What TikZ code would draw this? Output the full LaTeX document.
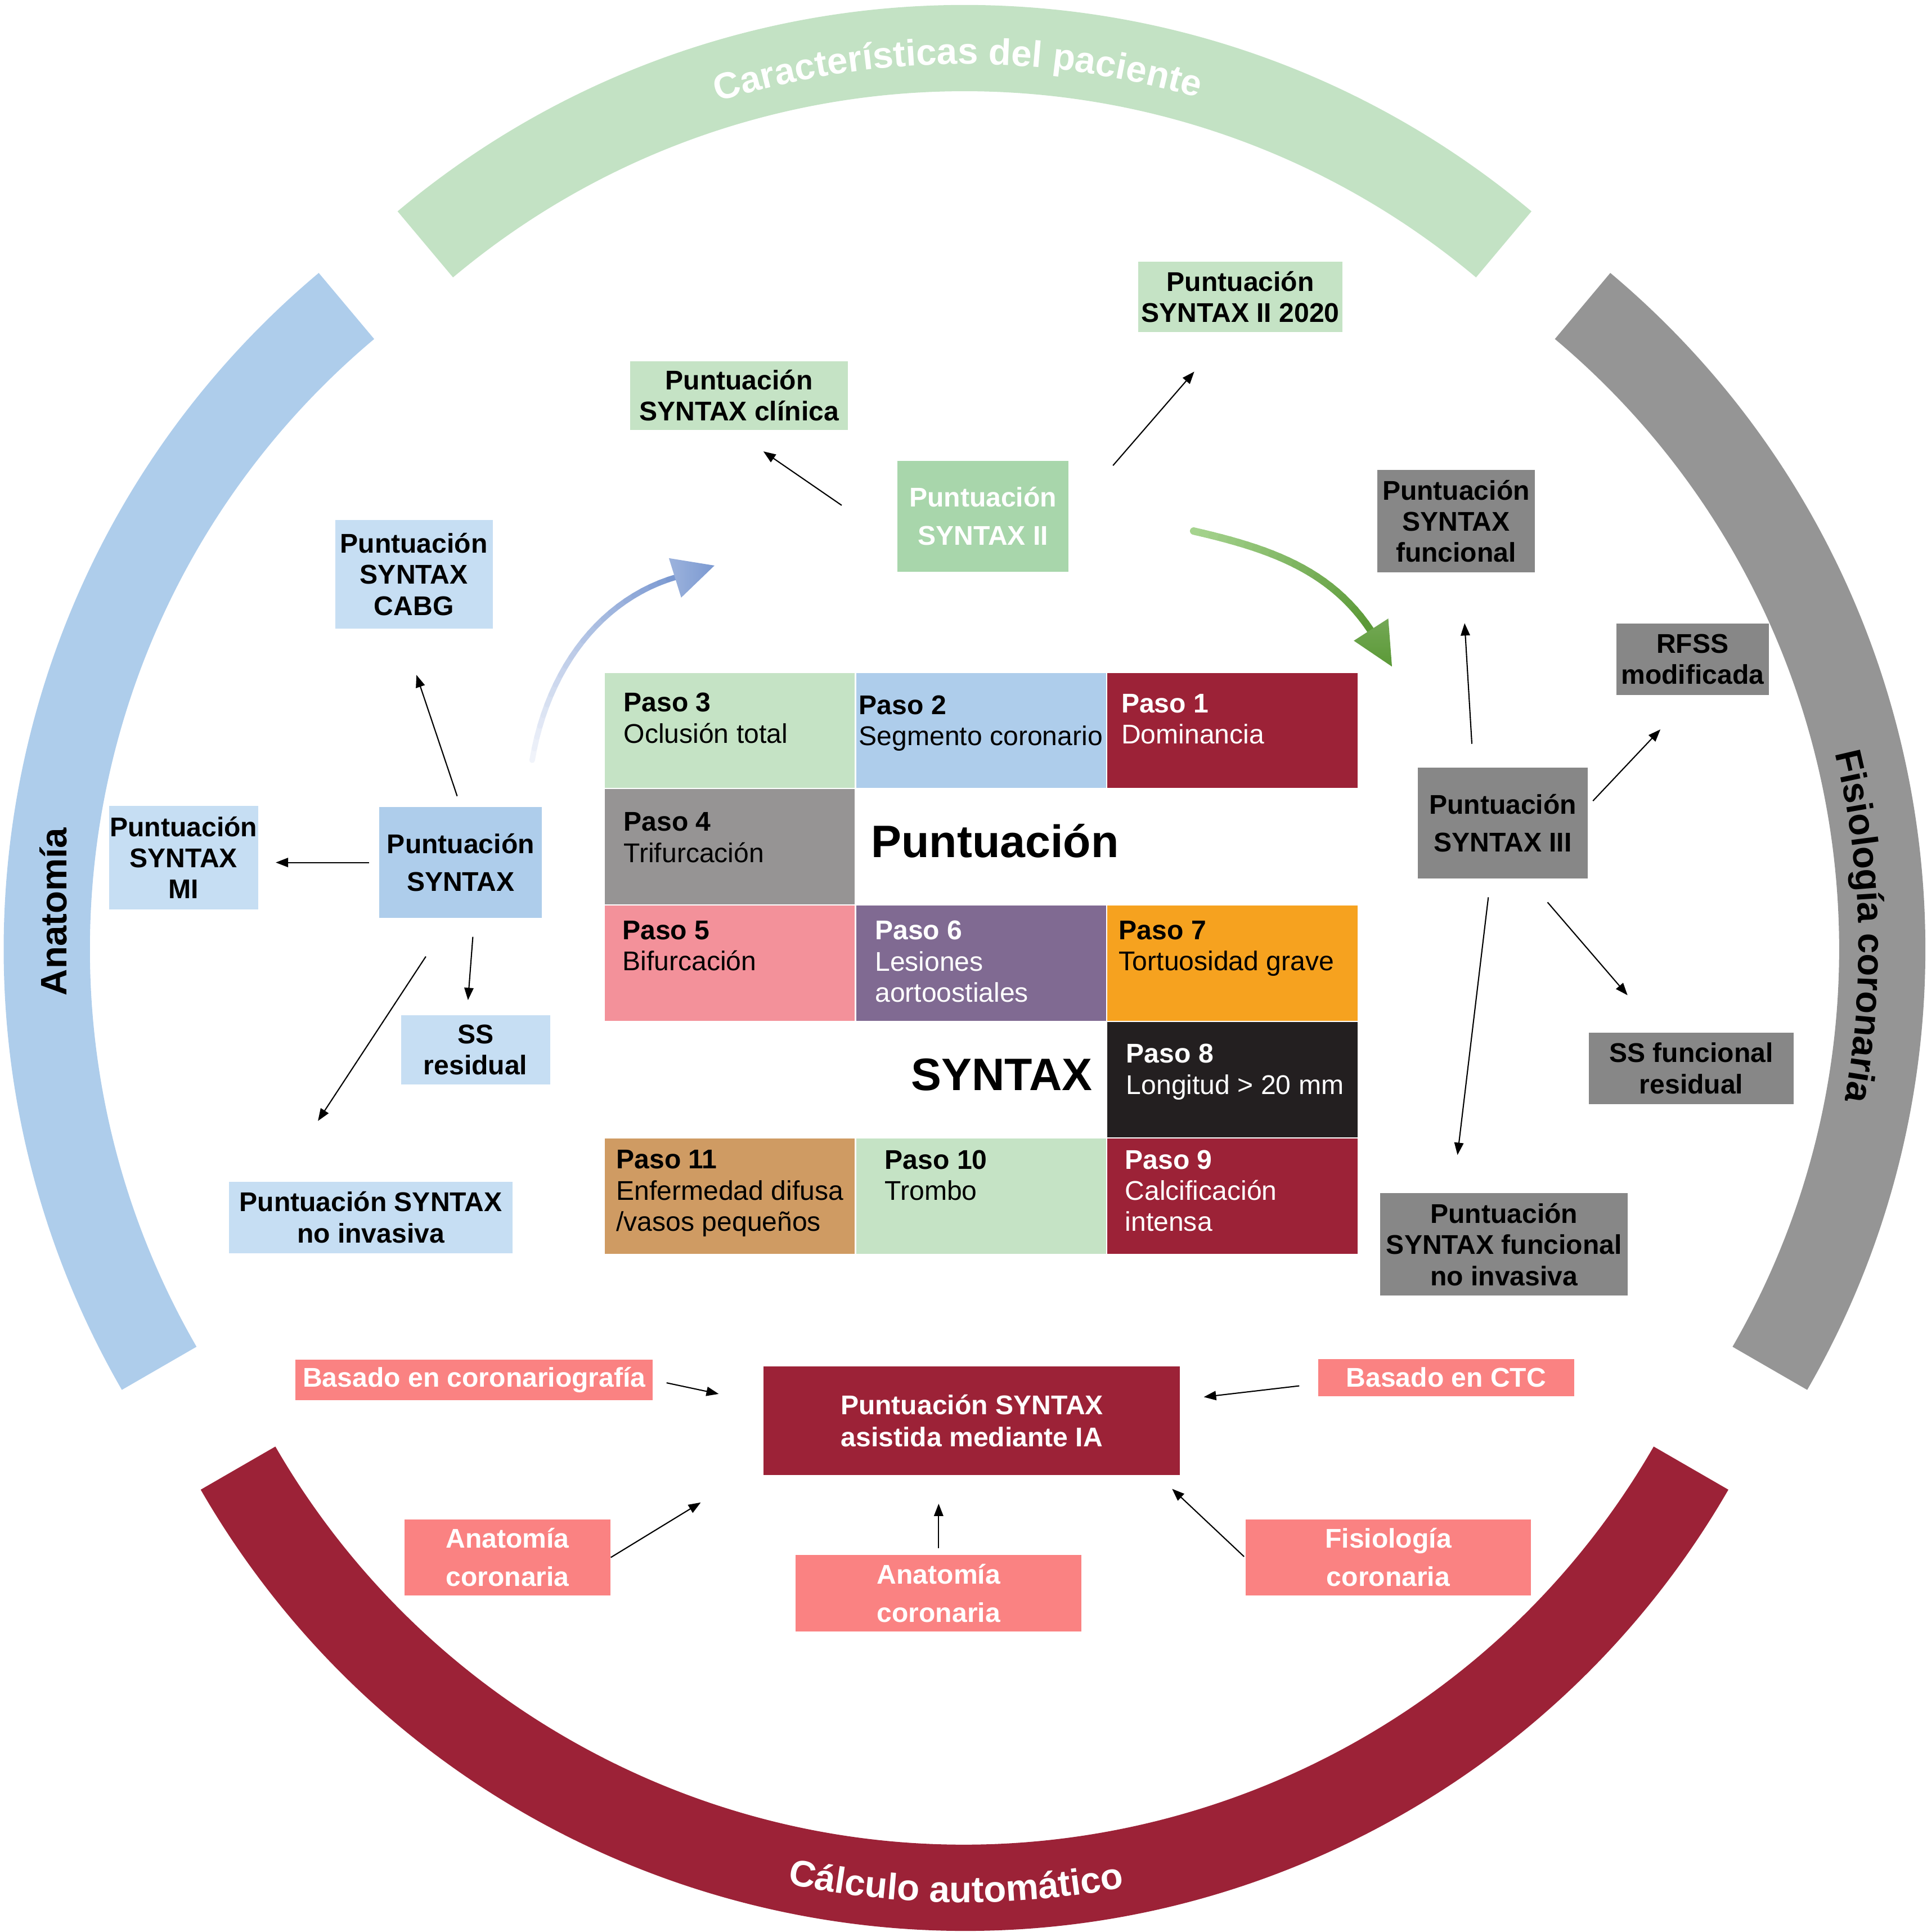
\documentclass[tikz,border=0pt]{standalone}
\usepackage{fontspec}
\setmainfont{Liberation Sans}
\usetikzlibrary{arrows.meta,positioning,calc,decorations.text}
\definecolor{ringgreen}{HTML}{C3E2C4}
\definecolor{ringblue}{HTML}{AECDEB}
\definecolor{ringgray}{HTML}{959595}
\definecolor{ringred}{HTML}{9C2237}
\definecolor{stepgreen}{HTML}{C5E3C5}
\definecolor{stepgray}{HTML}{969494}
\definecolor{steppink}{HTML}{F3919A}
\definecolor{steppurple}{HTML}{806A92}
\definecolor{steporange}{HTML}{F6A21F}
\definecolor{stepblack}{HTML}{231F20}
\definecolor{steptan}{HTML}{CF9B63}
\definecolor{anafill}{HTML}{C6DEF3}
\definecolor{greenbox}{HTML}{A8D6AB}
\definecolor{fisfill}{HTML}{878787}
\definecolor{autofill}{HTML}{FA8282}
\definecolor{blueshaft}{HTML}{F0F3FA}
\definecolor{bluehead}{HTML}{7B99D1}
\definecolor{greenshaft}{HTML}{A5D38E}
\definecolor{greenhead}{HTML}{5B9937}

\begin{document}
\begin{tikzpicture}[
  x=0.2mm, y=-0.2mm,
  >={Triangle[length=2mm,width=1.5mm]},
  box/.style={rectangle, inner sep=0pt, align=center,
              font=\bfseries\fontsize{12.5}{14.4}\selectfont},
  wide/.style={font=\bfseries\fontsize{12.5}{17.6}\selectfont},
  anabox/.style={box, fill=anafill},
  clinbox/.style={box, fill=stepgreen},
  fisbox/.style={box, fill=fisfill},
  autobox/.style={box, fill=autofill, text=white},
  cell/.style={rectangle, draw=white, line width=0.6pt, anchor=north west,
               minimum width=40.8mm, minimum height=18.9mm, inner sep=0pt},
  celltxt/.style={anchor=north west, inner sep=0pt, align=left,
                  font=\fontsize{12.5}{14.4}\selectfont},
  bigtxt/.style={inner sep=0pt, font=\bfseries\fontsize{21}{24}\selectfont},
  ringtxt/.style={font=\bfseries\fontsize{17}{20}\selectfont},
  arr/.style={->, line width=0.55pt},
]
\useasboundingbox (0,0) rectangle (1564,1568);

% --- outer ring, four block arcs ---
\begin{scope}[shift={(783,720)}]
  \fill[ringgreen] (-50:716) arc[start angle=-50, end angle=-130, radius=716]
    -- (-130:646) arc[start angle=-130, end angle=-50, radius=646] -- cycle;
  \path[decorate, decoration={text along path, text align=center, text color=white,
        text={|\bfseries\fontsize{17}{20}\selectfont|Características del paciente}}]
    (-126:668) arc[start angle=-126, end angle=-55, radius=668];
\end{scope}
\begin{scope}[shift={(719,770)}]
  \fill[ringblue] (-130:716) arc[start angle=-130, end angle=-210, radius=716]
    -- (-210:646) arc[start angle=-210, end angle=-130, radius=646] -- cycle;
\end{scope}
\begin{scope}[shift={(847,770)}]
  \fill[ringgray] (30:716) arc[start angle=30, end angle=-50, radius=716]
    -- (-50:646) arc[start angle=-50, end angle=30, radius=646] -- cycle;
  \path[decorate, decoration={text along path, text align=center,
        text={|\bfseries\fontsize{17}{20}\selectfont|Fisiología coronaria}}]
    (-36.6:662) arc[start angle=-36.6, end angle=33.4, radius=662];
\end{scope}
\begin{scope}[shift={(783,851)}]
  \fill[ringred] (-210:716) arc[start angle=-210, end angle=-330, radius=716]
    -- (-330:646) arc[start angle=-330, end angle=-210, radius=646] -- cycle;
  \path[decorate, decoration={text along path, text align=center, text color=white,
        text={|\bfseries\fontsize{17}{20}\selectfont|Cálculo automático}}]
    (-234.4:693) arc[start angle=-234.4, end angle=-304.4, radius=693];
\end{scope}
\node[ringtxt, rotate=90, anchor=base, inner sep=0pt] (anat) at (54,740) {Anatomía};

% --- SYNTAX steps grid ---
\node[cell, fill=stepgreen]  (c3)  at (490,545) {};
\node[cell, fill=ringblue]   (c2)  at (694,545) {};
\node[cell, fill=ringred]    (c1)  at (898,545) {};
\node[cell, fill=stepgray]   (c4)  at (490,639.5) {};
\node[cell, fill=steppink]   (c5)  at (490,734) {};
\node[cell, fill=steppurple] (c6)  at (694,734) {};
\node[cell, fill=steporange] (c7)  at (898,734) {};
\node[cell, fill=stepblack]  (c8)  at (898,828.5) {};
\node[cell, fill=steptan]    (c11) at (490,923) {};
\node[cell, fill=stepgreen]  (c10) at (694,923) {};
\node[cell, fill=ringred]    (c9)  at (898,923) {};

\node[celltxt] (t3) at (506,562) {\textbf{Paso 3}\\Oclusión total};
\node[celltxt] (t2) at (697,564) {\textbf{Paso 2}\\Segmento coronario};
\node[celltxt, text=white] (t1) at (910,563) {\textbf{Paso 1}\\Dominancia};
\node[celltxt] (t4) at (506,659) {\textbf{Paso 4}\\Trifurcación};
\node[celltxt] (t5) at (505,747) {\textbf{Paso 5}\\Bifurcación};
\node[celltxt, text=white] (t6) at (710,747) {\textbf{Paso 6}\\Lesiones\\aortoostiales};
\node[celltxt] (t7) at (908,747) {\textbf{Paso 7}\\Tortuosidad grave};
\node[celltxt, text=white] (t8) at (914,847) {\textbf{Paso 8}\\Longitud > 20 mm};
\node[celltxt] (t11) at (500,933) {\textbf{Paso 11}\\Enfermedad difusa\\/vasos pequeños};
\node[celltxt] (t10) at (718,933) {\textbf{Paso 10}\\Trombo};
\node[celltxt, text=white] (t9) at (913,933) {\textbf{Paso 9}\\Calcificación\\intensa};

\node[bigtxt, anchor=base west] (bigp) at (707,696) {Puntuación};
\node[bigtxt, anchor=base east] (bigs) at (887,885) {SYNTAX};

% --- Anatomy (left) ---
\node[anabox, fill=ringblue, wide, minimum width=26.4mm, minimum height=18mm] (synt) at (374,700) {Puntuación\\SYNTAX};
\node[anabox, minimum width=25.6mm, minimum height=17.6mm] (cabg) at (336,466) {Puntuación\\SYNTAX\\CABG};
\node[anabox, minimum width=24.2mm, minimum height=16.8mm] (mi) at (149,696) {Puntuación\\SYNTAX\\MI};
\node[anabox, minimum width=24.2mm, minimum height=11.2mm] (ssres) at (386,852) {SS\\residual};
\node[anabox, minimum width=46mm, minimum height=11.6mm] (nvas) at (301,988) {Puntuación SYNTAX\\no invasiva};

\draw[arr, shorten <=1.8mm, shorten >=7.9mm] (synt.north) -- ([xshift=-2.1mm]cabg.south);
\draw[arr, shorten <=1.6mm, shorten >=2.8mm] (synt.west) -- (synt.west -| mi.east);
\draw[arr, shorten <=3mm, shorten >=2.4mm] ([xshift=2.2mm]synt.south) -- ([xshift=-1.4mm]ssres.north);
\draw[arr, shorten <=7.4mm, shorten >=11.7mm] ([xshift=-1.6mm]synt.south) -- ([xshift=-15mm]nvas.north);

% --- Clinical (top) ---
\node[clinbox, fill=greenbox, text=white, wide, minimum width=27.8mm, minimum height=18mm] (s2) at (798,419) {Puntuación\\SYNTAX II};
\node[clinbox, minimum width=35.4mm, minimum height=11.2mm] (clin) at (600,321) {Puntuación\\SYNTAX clínica};
\node[clinbox, minimum width=33.2mm, minimum height=11.4mm] (s2020) at (1007,241) {Puntuación\\SYNTAX II 2020};

\draw[arr, shorten <=10.9mm, shorten >=6mm] ([yshift=-4.4mm]s2.west) -- ([xshift=-1mm]clin.south);
\draw[arr, shorten <=10.9mm, shorten >=8.4mm] (s2.east) -- ([xshift=-2mm]s2020.south);

% --- Physiology (right) ---
\node[fisbox, wide, minimum width=27.6mm, minimum height=18mm] (s3) at (1220,668) {Puntuación\\SYNTAX III};
\node[fisbox, minimum width=25.6mm, minimum height=16.6mm] (func) at (1182,423) {Puntuación\\SYNTAX\\funcional};
\node[fisbox, minimum width=24.8mm, minimum height=11.6mm] (rfss) at (1374,535) {RFSS\\modificada};
\node[fisbox, minimum width=33.2mm, minimum height=11.6mm] (ssfr) at (1373,867) {SS funcional\\residual};
\node[fisbox, minimum width=40.2mm, minimum height=16.6mm] (fnvas) at (1221,1010) {Puntuación\\SYNTAX funcional\\no invasiva};

\draw[arr, shorten <=3.8mm, shorten >=8.2mm] ([xshift=-4.8mm]s3.north) -- ([xshift=0.9mm]func.south);
\draw[arr, shorten <=1.1mm, shorten >=7.6mm] ([yshift=2.8mm]s3.east) -- (rfss.south);
\draw[arr, shorten <=5mm, shorten >=7.9mm] ([xshift=4mm]s3.south) -- ([xshift=-5.2mm]ssfr.north);
\draw[arr, shorten <=3mm, shorten >=6.2mm] ([xshift=-2mm]s3.south) -- ([xshift=-8.3mm]fnvas.north);

% --- Automatic calculation (bottom) ---
\node[autobox, fill=ringred, font=\bfseries\fontsize{12.5}{14.8}\selectfont, minimum width=67.6mm, minimum height=17.6mm] (ia) at (789,1153) {Puntuación SYNTAX\\asistida mediante IA};
\node[autobox, minimum width=58mm, minimum height=6.6mm] (coro) at (385,1120) {Basado en coronariografía};
\node[autobox, minimum width=41.6mm, minimum height=6mm] (ctc) at (1174,1118) {Basado en CTC};
\node[autobox, wide, minimum width=33.4mm, minimum height=12.4mm] (anat1) at (412,1264) {Anatomía\\coronaria};
\node[autobox, wide, minimum width=46.4mm, minimum height=12.4mm] (anat2) at (762,1293) {Anatomía\\coronaria};
\node[autobox, wide, minimum width=46.4mm, minimum height=12.4mm] (fisio) at (1127,1264) {Fisiología\\coronaria};

\draw[arr, shorten <=2.2mm, shorten >=7.4mm] (coro.east) -- ([yshift=2.8mm]ia.west);
\draw[arr, shorten <=3mm, shorten >=3.8mm] ([yshift=-1mm]ctc.west) -- ([yshift=3.4mm]ia.east);
\draw[arr, shorten >=11.9mm] (anat1.east) -- ([yshift=1.8mm]ia.south west);
\draw[arr, shorten <=1mm, shorten >=4.6mm] (anat2.north) -- (anat2.north |- ia.south);
\draw[arr, shorten <=0.2mm, shorten >=3.2mm] (fisio.west) -- ([xshift=-3.7mm]ia.south east);

% --- big curved arrows (faded shafts) ---
\coordinate (bs) at (432,617);  \coordinate (bc1) at (445,540);
\coordinate (bc2) at (490,485); \coordinate (be) at (550,468);
\coordinate (btip) at (580,459); \coordinate (bl) at (543,453); \coordinate (br) at (553,485);
\foreach \i [evaluate=\i as \t using \i/24] in {0,...,24}
  \path (bs) .. controls (bc1) and (bc2) .. (be) coordinate[pos=\t] (bp\i);
\foreach \i [evaluate=\i as \j using int(\i+1), evaluate=\i as \c using int(100*\i/23)] in {0,...,23}
  \draw[line width=0.9mm, line cap=round, bluehead!\c!blueshaft] (bp\i) -- (bp\j);
\shade[left color=bluehead!75, right color=bluehead] (btip) -- (bl) -- (br) -- cycle;

\coordinate (gs) at (969,431);  \coordinate (gc1) at (1030,445);
\coordinate (gc2) at (1080,462); \coordinate (ge) at (1113,512);
\coordinate (gtip) at (1130,541); \coordinate (gl) at (1099,520); \coordinate (gr) at (1127,502);
\foreach \i [evaluate=\i as \t using \i/24] in {0,...,24}
  \path (gs) .. controls (gc1) and (gc2) .. (ge) coordinate[pos=\t] (gp\i);
\foreach \i [evaluate=\i as \j using int(\i+1), evaluate=\i as \c using int(100*\i/23)] in {0,...,23}
  \draw[line width=1.2mm, line cap=round, greenhead!\c!greenshaft] (gp\i) -- (gp\j);
\shade[top color=greenhead!85, bottom color=greenhead] (gtip) -- (gl) -- (gr) -- cycle;

\end{tikzpicture}
\end{document}
